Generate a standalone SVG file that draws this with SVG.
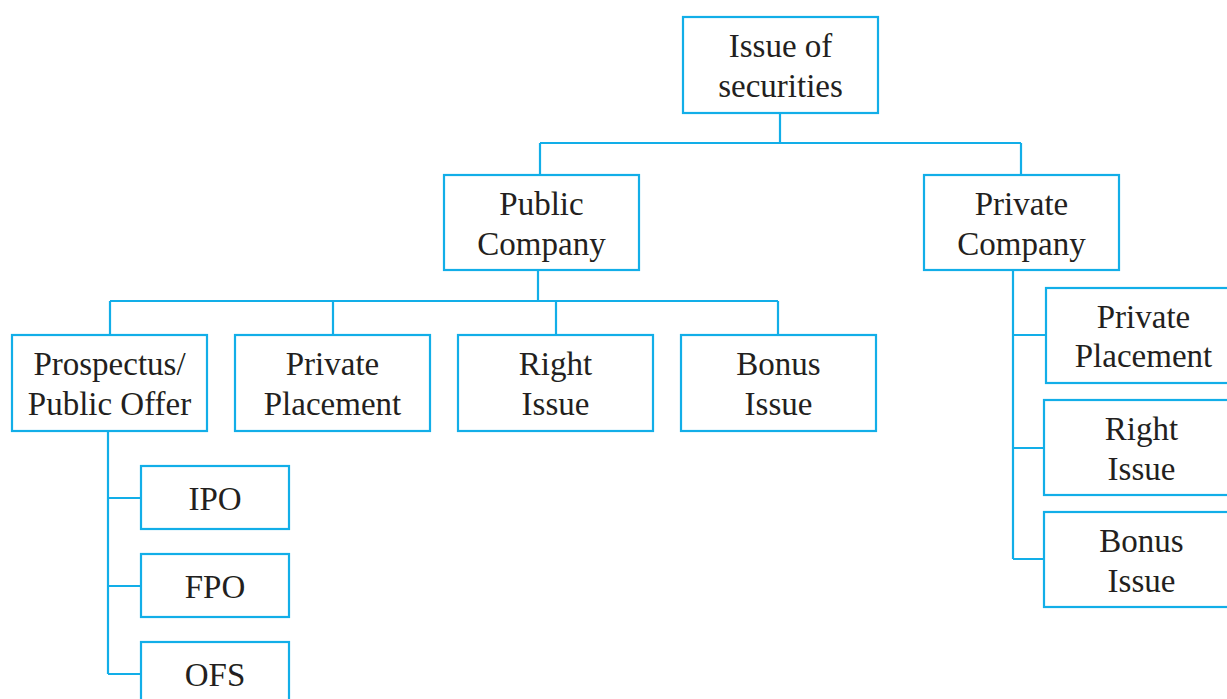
<svg xmlns="http://www.w3.org/2000/svg" width="1227" height="699" viewBox="0 0 1227 699">
  <style>
    .box { fill: #ffffff; stroke: #12aee8; stroke-width: 2.2; }
    .link { fill: none; stroke: #12aee8; stroke-width: 2.2; }
    .lbl { font-family: "Liberation Serif", "Times New Roman", serif; font-size: 33px; fill: #231f20; text-anchor: middle; }
  </style>
  <rect width="1227" height="699" fill="#ffffff"/>

  <!-- connectors -->
  <g id="connectors" class="link">
    <path d="M780 113 V143 M540 143 H1021 M540 143 V175 M1021 143 V175"/>
    <path d="M538 270 V301 M110 301 H778 M110 301 V335 M333 301 V335 M556 301 V335 M778 301 V335"/>
    <path d="M108 431 V674 M108 498 H141 M108 586 H141 M108 674 H141"/>
    <path d="M1013 270 V559 M1013 335 H1046 M1013 448 H1044 M1013 559 H1044"/>
  </g>

  <g id="issue-of-securities">
    <rect class="box" x="683" y="17" width="195" height="96"/>
    <text class="lbl" x="780.5" y="57">Issue of</text>
    <text class="lbl" x="780.5" y="97">securities</text>
  </g>

  <g id="public-company">
    <rect class="box" x="444" y="175" width="195" height="95"/>
    <text class="lbl" x="541.5" y="215">Public</text>
    <text class="lbl" x="541.5" y="255">Company</text>
  </g>

  <g id="private-company">
    <rect class="box" x="924" y="175" width="195" height="95"/>
    <text class="lbl" x="1021.5" y="215">Private</text>
    <text class="lbl" x="1021.5" y="255">Company</text>
  </g>

  <g id="prospectus">
    <rect class="box" x="12" y="335" width="195" height="96"/>
    <text class="lbl" x="109.5" y="375">Prospectus/</text>
    <text class="lbl" x="109.5" y="415">Public Offer</text>
  </g>

  <g id="public-private-placement">
    <rect class="box" x="235" y="335" width="195" height="96"/>
    <text class="lbl" x="332.5" y="375">Private</text>
    <text class="lbl" x="332.5" y="415">Placement</text>
  </g>

  <g id="public-right-issue">
    <rect class="box" x="458" y="335" width="195" height="96"/>
    <text class="lbl" x="555.5" y="375">Right</text>
    <text class="lbl" x="555.5" y="415">Issue</text>
  </g>

  <g id="public-bonus-issue">
    <rect class="box" x="681" y="335" width="195" height="96"/>
    <text class="lbl" x="778.5" y="375">Bonus</text>
    <text class="lbl" x="778.5" y="415">Issue</text>
  </g>

  <g id="ipo">
    <rect class="box" x="141" y="466" width="148" height="63"/>
    <text class="lbl" x="215" y="510">IPO</text>
  </g>

  <g id="fpo">
    <rect class="box" x="141" y="554" width="148" height="63"/>
    <text class="lbl" x="215" y="598">FPO</text>
  </g>

  <g id="ofs">
    <rect class="box" x="141" y="642" width="148" height="63"/>
    <text class="lbl" x="215" y="686">OFS</text>
  </g>

  <g id="private-private-placement">
    <rect class="box" x="1046" y="288" width="195" height="95"/>
    <text class="lbl" x="1143.5" y="328">Private</text>
    <text class="lbl" x="1143.5" y="367">Placement</text>
  </g>

  <g id="private-right-issue">
    <rect class="box" x="1044" y="400" width="195" height="95"/>
    <text class="lbl" x="1141.5" y="440">Right</text>
    <text class="lbl" x="1141.5" y="480">Issue</text>
  </g>

  <g id="private-bonus-issue">
    <rect class="box" x="1044" y="512" width="195" height="95"/>
    <text class="lbl" x="1141.5" y="552">Bonus</text>
    <text class="lbl" x="1141.5" y="592">Issue</text>
  </g>
</svg>
